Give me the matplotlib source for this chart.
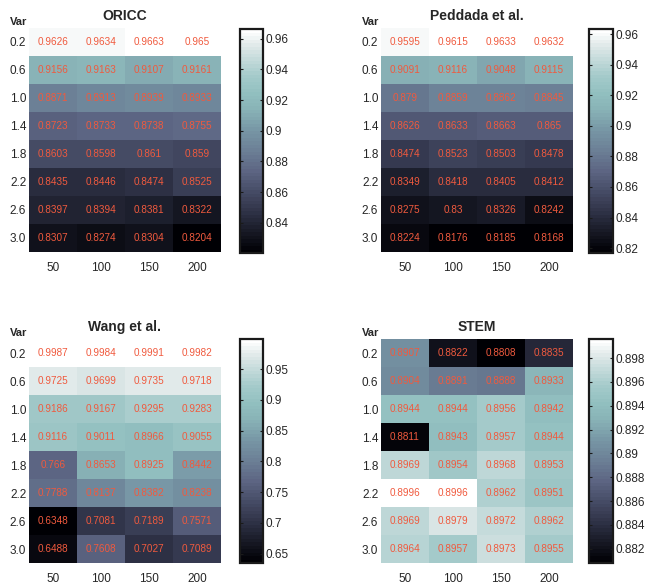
import matplotlib
matplotlib.use("Agg")
import matplotlib.pyplot as plt
import numpy as np
from matplotlib.colors import LinearSegmentedColormap

plt.rcParams["font.family"] = ["Liberation Sans", "DejaVu Sans"]

# data
var_labels = ["0.2", "0.6", "1.0", "1.4", "1.8", "2.2", "2.6", "3.0"]
n_labels = ["50", "100", "150", "200"]

oricc = [
    [0.9626, 0.9634, 0.9663, 0.965],
    [0.9156, 0.9163, 0.9107, 0.9161],
    [0.8871, 0.8913, 0.8939, 0.8933],
    [0.8723, 0.8733, 0.8738, 0.8755],
    [0.8603, 0.8598, 0.861, 0.859],
    [0.8435, 0.8446, 0.8474, 0.8525],
    [0.8397, 0.8394, 0.8381, 0.8322],
    [0.8307, 0.8274, 0.8304, 0.8204],
]
peddada = [
    [0.9595, 0.9615, 0.9633, 0.9632],
    [0.9091, 0.9116, 0.9048, 0.9115],
    [0.879, 0.8859, 0.8862, 0.8845],
    [0.8626, 0.8633, 0.8663, 0.865],
    [0.8474, 0.8523, 0.8503, 0.8478],
    [0.8349, 0.8418, 0.8405, 0.8412],
    [0.8275, 0.83, 0.8326, 0.8242],
    [0.8224, 0.8176, 0.8185, 0.8168],
]
wang = [
    [0.9987, 0.9984, 0.9991, 0.9982],
    [0.9725, 0.9699, 0.9735, 0.9718],
    [0.9186, 0.9167, 0.9295, 0.9283],
    [0.9116, 0.9011, 0.8966, 0.9055],
    [0.766, 0.8653, 0.8925, 0.8442],
    [0.7788, 0.8137, 0.8382, 0.8238],
    [0.6348, 0.7081, 0.7189, 0.7571],
    [0.6488, 0.7608, 0.7027, 0.7089],
]
stem = [
    [0.8907, 0.8822, 0.8808, 0.8835],
    [0.8904, 0.8891, 0.8888, 0.8933],
    [0.8944, 0.8944, 0.8956, 0.8942],
    [0.8811, 0.8943, 0.8957, 0.8944],
    [0.8969, 0.8954, 0.8968, 0.8953],
    [0.8996, 0.8996, 0.8962, 0.8951],
    [0.8969, 0.8979, 0.8972, 0.8962],
    [0.8964, 0.8957, 0.8973, 0.8955],
]

titles = ["ORICC", "Peddada et al.", "Wang et al.", "STEM"]
tables = [oricc, peddada, wang, stem]
cbar_ticks = [
    [0.84, 0.86, 0.88, 0.90, 0.92, 0.94, 0.96],
    [0.82, 0.84, 0.86, 0.88, 0.90, 0.92, 0.94, 0.96],
    [0.65, 0.70, 0.75, 0.80, 0.85, 0.90, 0.95],
    [0.882, 0.884, 0.886, 0.888, 0.890, 0.892, 0.894, 0.896, 0.898],
]

W, H = 646, 588
# pixel boxes (x0, y0, x1, y1) for heatmap and colorbar
heat_boxes = [(29, 28, 221, 252), (381, 28, 573, 252),
              (29, 339, 221, 563), (381, 339, 573, 563)]
cbar_boxes = [(240, 29, 263, 253), (589, 29, 613, 253),
              (240, 339, 263, 563), (589, 339, 613, 563)]

TXT = "#262626"
VAL = "#f05a3e"

# bone-like map, tuned to the colours seen in the reference
bone_stops = [
    (0.00, (0, 0, 4)),
    (0.20, (52, 56, 78)),
    (0.36, (92, 100, 130)),
    (0.46, (108, 128, 150)),
    (0.55, (119, 150, 165)),
    (0.64, (136, 178, 182)),
    (0.72, (146, 192, 192)),
    (0.80, (166, 203, 203)),
    (0.93, (222, 232, 232)),
    (1.00, (255, 255, 255)),
]
cmap = LinearSegmentedColormap.from_list(
    "bone_ref", [(p, tuple(c / 255 for c in rgb)) for p, rgb in bone_stops], N=64)


def frac(box):
    x0, y0, x1, y1 = box
    return [x0 / W, 1 - y1 / H, (x1 - x0) / W, (y1 - y0) / H]


fig = plt.figure(figsize=(W / 100, H / 100), dpi=100)

for title, data, ticks, hb, cb in zip(titles, tables, cbar_ticks, heat_boxes, cbar_boxes):
    arr = np.array(data)
    ax = fig.add_axes(frac(hb))
    im = ax.imshow(arr, cmap=cmap, aspect="auto", interpolation="nearest",
                   vmin=arr.min(), vmax=arr.max())
    for i in range(arr.shape[0]):
        for j in range(arr.shape[1]):
            ax.text(j, i, f"{arr[i, j]:g}", ha="center", va="center",
                    fontsize=7.2, color=VAL)
    ax.set_xticks(range(len(n_labels)))
    ax.set_xticklabels(n_labels)
    ax.set_yticks(range(len(var_labels)))
    ax.set_yticklabels(var_labels)
    ax.tick_params(length=0, labelsize=8.5, colors=TXT)
    ax.tick_params(axis="x", pad=7)
    ax.tick_params(axis="y", pad=2)
    for s in ax.spines.values():
        s.set_visible(False)
    ax.set_title(title, fontsize=10, fontweight="bold", color=TXT, pad=6)
    ax.annotate("Var", xy=(0, 1), xycoords="axes fraction", xytext=(-1, 1),
                textcoords="offset points", ha="right", va="bottom",
                fontsize=8, fontweight="bold", color=TXT)

    cax = fig.add_axes(frac(cb))
    cbar = fig.colorbar(im, cax=cax)
    cbar.set_ticks(ticks)
    cbar.set_ticklabels([f"{t:g}" for t in ticks])
    cbar.outline.set_linewidth(1.6)
    cbar.outline.set_edgecolor("#1a1a1a")
    cax.tick_params(direction="in", length=2.5, width=0.8, left=True, right=True,
                    labelsize=8.5, colors=TXT, pad=2)
    cax.tick_params(color="#1a1a1a")

fig.savefig("out.png", dpi=100, facecolor="white")
